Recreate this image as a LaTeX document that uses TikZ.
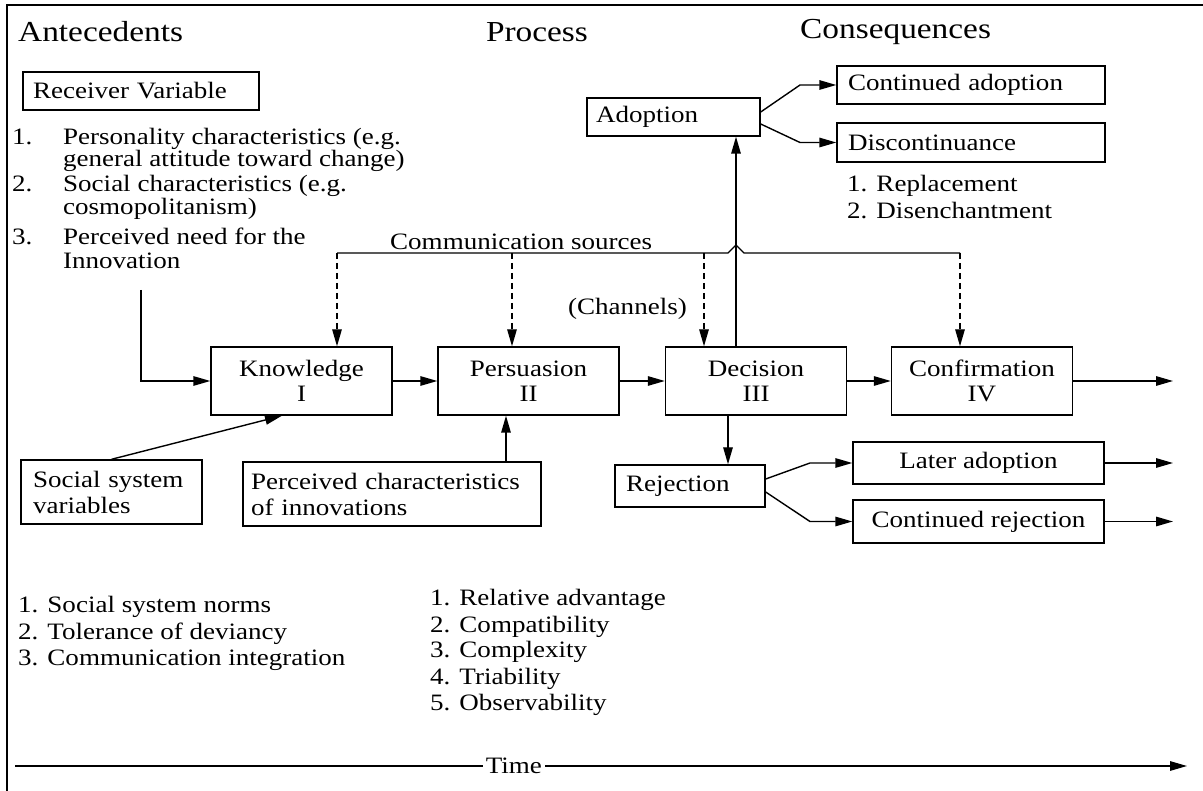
\documentclass[tikz,border=0pt]{standalone}
\usepackage{fontspec}
\setmainfont{Liberation Serif}[FakeStretch=1.15]
\usetikzlibrary{arrows.meta,calc}
\begin{document}
\begin{tikzpicture}[x=1pt,y=-1pt,
  bodyfont/.style={font=\fontsize{23.5}{25}\selectfont},
  ttl/.style={font=\fontsize{29}{33}\selectfont, inner sep=0pt},
  lbl/.style={bodyfont, inner sep=0pt, anchor=base west},
  boxnode/.style={draw, line width=1.4pt, inner sep=0pt, bodyfont},
  arr/.style={line width=1.4pt, -{Triangle[length=17pt,width=9.5pt]}},
  dasharr/.style={arr, dash pattern=on 6pt off 4pt},
  plainline/.style={line width=1.4pt},
  frameline/.style={line width=1.2pt}]
\useasboundingbox (0,0) rectangle (1203,791);
% frame
\draw[frameline] (7,791) -- (7,5) -- (1203,5);
% titles
\node[ttl, anchor=west] (tA) at (18,32) {Antecedents};
\node[ttl] (tP) at (537,32) {Process};
\node[ttl, anchor=west] (tC) at (800,32) {Consequences};
% receiver
\node[boxnode, minimum width=236pt, minimum height=38pt, text width=216pt, inner xsep=10pt, align=left] (recv) at (141,91) {Receiver Variable};
\node[lbl] (n1) at (12,145) {1.};
\node[lbl] (r1a) at (63,145) {Personality characteristics (e.g.};
\node[lbl] (r1b) at (63,167) {general attitude toward change)};
\node[lbl] (n2) at (12,192) {2.};
\node[lbl] (r2a) at (63,192) {Social characteristics (e.g.};
\node[lbl] (r2b) at (63,215) {cosmopolitanism)};
\node[lbl] (n3) at (12,245) {3.};
\node[lbl] (r3a) at (63,245) {Perceived need for the};
\node[lbl] (r3b) at (63,269) {Innovation};
% main process boxes
\node[boxnode, minimum width=181pt, minimum height=68pt, align=center] (know) at (301.5,381) {Knowledge\\I};
\node[boxnode, minimum width=181pt, minimum height=68pt, align=center] (pers) at (528.5,381) {Persuasion\\II};
\node[boxnode, minimum width=181pt, minimum height=68pt, align=center] (dec) at (756,381) {Decision\\III};
\node[boxnode, minimum width=181pt, minimum height=68pt, align=center] (conf) at (982,381) {Confirmation\\IV};
% consequences boxes
\node[boxnode, minimum width=173pt, minimum height=38pt, text width=155pt, inner xsep=9pt, align=left] (ado) at (673.5,117) {Adoption};
\node[boxnode, minimum width=268pt, minimum height=38pt, text width=246pt, inner xsep=11pt, align=left] (cad) at (971,85) {Continued adoption};
\node[boxnode, minimum width=268pt, minimum height=39pt, text width=246pt, inner xsep=11pt, align=left] (dis) at (971,142.5) {Discontinuance};
\node[lbl] (rp1) at (847,192) {1. Replacement};
\node[lbl] (rp2) at (847,219) {2. Disenchantment};
\node[boxnode, minimum width=150pt, minimum height=42pt, text width=128pt, inner xsep=11pt, align=left] (rej) at (690,486) {Rejection};
\node[boxnode, minimum width=251pt, minimum height=42pt, align=center] (later) at (978.5,463) {Later adoption};
\node[boxnode, minimum width=251pt, minimum height=43pt, align=center] (crej) at (978.5,521.5) {Continued rejection};
% lower boxes
\node[boxnode, minimum width=181pt, minimum height=64pt, text width=157pt, inner xsep=12pt, align=left, font=\fontsize{23.5}{26}\selectfont] (soc) at (111.5,492) {Social system\\variables};
\node[boxnode, minimum width=298pt, minimum height=64pt, text width=282pt, inner xsep=8pt, align=left, font=\fontsize{23.5}{26}\selectfont] (perc) at (392,494) {Perceived characteristics\\of innovations};
% communication sources
\node[lbl] (cs) at (390,250) {Communication sources};
\node[lbl] (ch) at (568,315) {(Channels)};
\coordinate (c1) at (337,253);
\coordinate (c2) at (512,253);
\coordinate (c3) at (704,253);
\coordinate (c4) at (960,253);
\coordinate (j1) at (728,253);
\coordinate (j2) at (736,245);
\coordinate (j3) at (744,253);
\draw[plainline] (c1) -- (j1) -- (j2) -- (j3) -- (c4);
\draw[dasharr] (c1) -- (know.north -| c1);
\draw[dasharr] (c2) -- (pers.north -| c2);
\draw[dasharr] (c3) -- (dec.north -| c3);
\draw[dasharr] (c4) -- (conf.north -| c4);
% process arrows
\coordinate (rs) at (141,290);
\draw[arr] (rs) |- (know.west);
\draw[arr] (know.east) -- (pers.west);
\draw[arr] (pers.east) -- (dec.west);
\draw[arr] (dec.east) -- (conf.west);
\coordinate (outx) at (1173,0);
\draw[arr] (conf.east) -- (conf.east -| outx);
\coordinate (ks) at ([xshift=-19.5pt]know.south);
\draw[arr] (soc.north) -- (ks);
\coordinate (pa) at (506,0);
\draw[arr] (perc.north -| pa) -- (pers.south -| pa);
\coordinate (ua) at (736,0);
\draw[arr] (dec.north -| ua) -- (ado.south -| ua);
\coordinate (da) at (728,0);
\draw[arr] (dec.south -| da) -- (rej.north -| da);
% adoption branches
\coordinate (ka) at (800,0);
\draw[arr] ([yshift=5pt]ado.east) -- (cad.west -| ka) -- (cad.west);
\draw[arr] ([yshift=-7pt]ado.east) -- (dis.west -| ka) -- (dis.west);
% rejection branches
\coordinate (kr) at (810,0);
\draw[arr] ([yshift=7pt]rej.east) -- (later.west -| kr) -- (later.west);
\draw[arr] ([yshift=-6pt]rej.east) -- (crej.west -| kr) -- (crej.west);
\draw[arr] (later.east) -- (later.east -| outx);
\draw[arr] (crej.east) -- (crej.east -| outx);
% lower lists
\node[lbl] (s1) at (18,612) {1. Social system norms};
\node[lbl] (s2) at (18,639) {2. Tolerance of deviancy};
\node[lbl] (s3) at (18,665) {3. Communication integration};
\node[lbl] (p1) at (430,605) {1. Relative advantage};
\node[lbl] (p2) at (430,632) {2. Compatibility};
\node[lbl] (p3) at (430,657) {3. Complexity};
\node[lbl] (p4) at (430,684) {4. Triability};
\node[lbl] (p5) at (430,710) {5. Observability};
% time
\coordinate (t0) at (15,766);
\coordinate (t1) at (1187,766);
\draw[arr] (t0) -- node[pos=0.4256, fill=white, inner xsep=3pt, inner ysep=1pt, bodyfont] (time) {Time} (t1);
\end{tikzpicture}
\end{document}
